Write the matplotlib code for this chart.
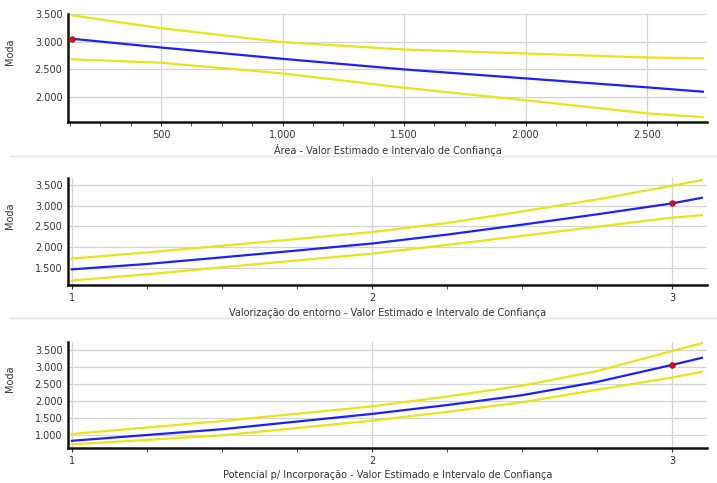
import matplotlib
matplotlib.use("Agg")
import matplotlib.pyplot as plt
from matplotlib.lines import Line2D
from matplotlib.ticker import MultipleLocator, FixedLocator, FuncFormatter

# panel 1 - Area
area_x = [134, 500, 1000, 1500, 2000, 2500, 2730]
area_est = [3050, 2893, 2690, 2500, 2339, 2178, 2100]
area_hi = [3470, 3240, 2990, 2857, 2786, 2714, 2700]
area_lo = [2682, 2620, 2428, 2171, 1946, 1712, 1643]
area_pt = (134, 3050)

# panel 2 - Valorizacao do entorno
val_x = [1, 1.25, 1.5, 1.75, 2, 2.25, 2.5, 2.75, 3, 3.1]
val_est = [1460, 1590, 1750, 1915, 2085, 2300, 2540, 2790, 3055, 3190]
val_hi = [1720, 1870, 2030, 2195, 2362, 2580, 2860, 3150, 3480, 3620]
val_lo = [1190, 1340, 1510, 1675, 1840, 2050, 2270, 2490, 2710, 2770]
val_pt = (3, 3055)

# panel 3 - Potencial p/ Incorporacao
pot_x = [1, 1.5, 2, 2.25, 2.5, 2.75, 3, 3.1]
pot_est = [830, 1170, 1620, 1880, 2170, 2560, 3060, 3270]
pot_hi = [1030, 1410, 1840, 2130, 2450, 2880, 3470, 3700]
pot_lo = [725, 990, 1420, 1680, 1960, 2330, 2690, 2860]
pot_pt = (3, 3060)

titles = ["Área - Valor Estimado e Intervalo de Confiança",
          "Valorização do entorno - Valor Estimado e Intervalo de Confiança",
          "Potencial p/ Incorporação - Valor Estimado e Intervalo de Confiança"]

W, H = 717, 483
fig = plt.figure(figsize=(W / 100, H / 100), dpi=100)
fig.patch.set_facecolor("white")


def fmt(v, pos):
    return f"{v:,.0f}".replace(",", ".")


def make_panel(top, bottom, xs, est, hi, lo, pt, xlim, ylim, yticks,
               xmajor, xminor, title, xfmt):
    ax = fig.add_axes([68 / W, 1 - bottom / H, 639 / W, (bottom - top) / H])
    ax.set_xlim(*xlim)
    ax.set_ylim(*ylim)
    ax.plot(xs, hi, color="#e6e619", lw=1.6, zorder=3)
    ax.plot(xs, lo, color="#e6e619", lw=1.6, zorder=3)
    ax.plot(xs, est, color="#1f1fff", lw=1.6, zorder=4)
    ax.plot([pt[0]], [pt[1]], "o", ms=4, mfc="#e01010", mec="#a00000",
            mew=0.5, zorder=5)
    ax.yaxis.set_major_locator(FixedLocator(yticks))
    ax.yaxis.set_major_formatter(FuncFormatter(fmt))
    ax.xaxis.set_major_locator(MultipleLocator(xmajor))
    ax.xaxis.set_minor_locator(MultipleLocator(xminor))
    ax.xaxis.set_major_formatter(FuncFormatter(xfmt))
    ax.grid(True, which="major", color="#d4d4d4", lw=0.9)
    ax.set_axisbelow(True)
    for s in ["top", "right"]:
        ax.spines[s].set_visible(False)
    for s in ["left", "bottom"]:
        ax.spines[s].set_color("#111111")
        ax.spines[s].set_linewidth(1.8)
    ax.tick_params(axis="y", length=0, labelsize=7, colors="#333333", pad=4)
    ax.tick_params(axis="x", which="major", length=3, labelsize=7,
                   colors="#333333", pad=3)
    ax.tick_params(axis="x", which="minor", length=3, color="#333333")
    ax.set_xlabel(title, fontsize=7, color="#333333", labelpad=3)
    ax.set_ylabel("Moda", fontsize=7, color="#333333")
    ax.yaxis.set_label_coords(-0.083, 0.65)
    return ax


make_panel(13.7, 122, area_x, area_est, area_hi, area_lo, area_pt,
           (117, 2747), (1556, 3500), [2000, 2500, 3000, 3500],
           500, 125, titles[0], fmt)
make_panel(178, 285, val_x, val_est, val_hi, val_lo, val_pt,
           (0.987, 3.117), (1082, 3669), [1500, 2000, 2500, 3000, 3500],
           1, 0.25, titles[1], lambda v, p: f"{v:.0f}")
make_panel(342, 448, pot_x, pot_est, pot_hi, pot_lo, pot_pt,
           (0.987, 3.117), (618, 3735), [1000, 1500, 2000, 2500, 3000, 3500],
           1, 0.25, titles[2], lambda v, p: f"{v:.0f}")

# light separators between panels
for yp in [156, 318]:
    fig.add_artist(Line2D([10 / W, 1], [1 - yp / H, 1 - yp / H],
                          color="#e4e4e4", lw=1.0))

fig.savefig("out.png", dpi=100)
